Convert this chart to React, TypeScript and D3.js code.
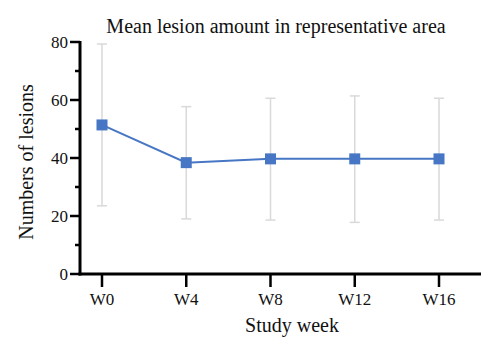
import React from "react";
import * as d3 from "d3";

const categories = ["W0", "W4", "W8", "W12", "W16"];
const means = [51.4, 38.4, 39.7, 39.7, 39.7];
const upper = [79.3, 57.7, 60.6, 61.4, 60.6];
const lower = [23.5, 19.0, 18.6, 17.8, 18.6];
const yTicks = [0, 20, 40, 60, 80];
const yMinorTicks = [10, 30, 50, 70];

const W = 500, H = 355;
const FONT = "'Liberation Serif', 'DejaVu Serif', serif";

export default function App() {
  const x = d3.scalePoint<string>().domain(categories).range([102, 439]);
  const y = d3.scaleLinear().domain([0, 80]).range([274, 42]);
  const axisX0 = 80, axisX1 = 481;
  const line = d3.line<number>().x((_, i) => x(categories[i])!).y(d => y(d));
  const blue = "#4777c4";
  const grey = "#d9d9d9";
  return (
    <svg width={W} height={H} style={{ position: "absolute", left: 0, top: 0, background: "#fff" }} fontFamily={FONT}>
      <text x={276} y={33} textAnchor="middle" fontSize={20} fill="#111">Mean lesion amount in representative area</text>
      {/* error bars */}
      {categories.map((c, i) => (
        <g key={c} stroke={grey} strokeWidth={1.5}>
          <line x1={x(c)} x2={x(c)} y1={y(upper[i])} y2={y(lower[i])} />
          <line x1={x(c)! - 5} x2={x(c)! + 5} y1={y(upper[i])} y2={y(upper[i])} />
          <line x1={x(c)! - 5} x2={x(c)! + 5} y1={y(lower[i])} y2={y(lower[i])} />
        </g>
      ))}
      <path d={line(means)!} fill="none" stroke={blue} strokeWidth={2} />
      {categories.map((c, i) => (
        <rect key={c} x={x(c)! - 5.5} y={y(means[i]) - 5.5} width={11} height={11} fill={blue} />
      ))}
      {/* y axis */}
      <line x1={axisX0} x2={axisX0} y1={y(80) - 1} y2={y(0) + 1.5} stroke="#000" strokeWidth={3} />
      {yTicks.map(t => (
        <g key={t}>
          <line x1={70} x2={axisX0} y1={y(t)} y2={y(t)} stroke="#000" strokeWidth={2.5} />
          <text x={68} y={y(t)} dy="0.35em" textAnchor="end" fontSize={17} fill="#111">{t}</text>
        </g>
      ))}
      {yMinorTicks.map(t => (
        <line key={t} x1={75} x2={axisX0} y1={y(t)} y2={y(t)} stroke="#000" strokeWidth={2.5} />
      ))}
      {/* x axis */}
      <line x1={axisX0 - 1.5} x2={axisX1} y1={y(0)} y2={y(0)} stroke="#000" strokeWidth={3} />
      {categories.map(c => (
        <g key={c}>
          <line x1={x(c)} x2={x(c)} y1={y(0)} y2={y(0) + 13} stroke="#000" strokeWidth={2.5} />
          <text x={x(c)} y={305} textAnchor="middle" fontSize={17} fill="#111">{c}</text>
        </g>
      ))}
      <text x={292} y={332} textAnchor="middle" fontSize={20} fill="#111">Study week</text>
      <text transform={`translate(33,162) rotate(-90)`} textAnchor="middle" fontSize={20} fill="#111">Numbers of lesions</text>
    </svg>
  );
}
